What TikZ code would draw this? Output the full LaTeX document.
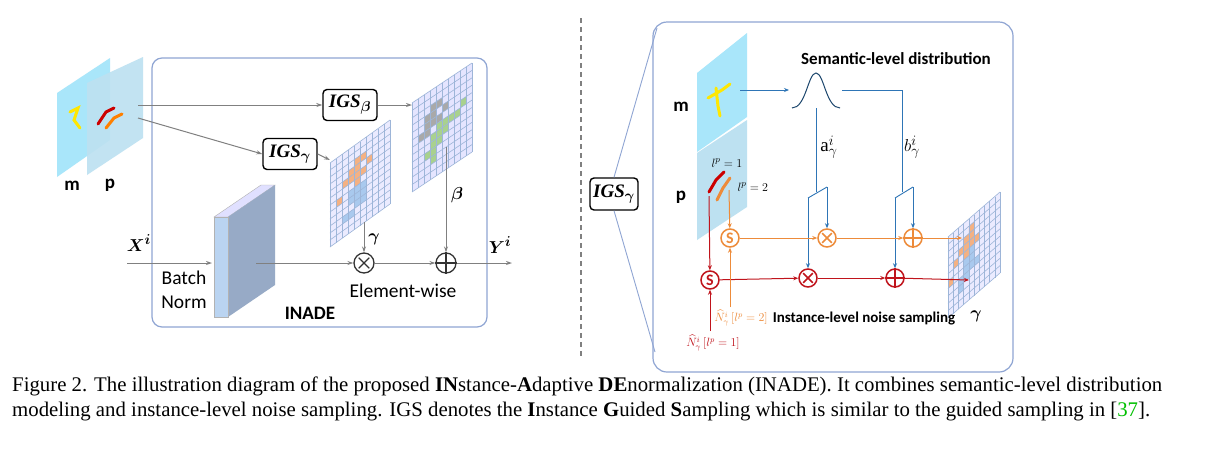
\documentclass[tikz,border=0pt]{standalone}
\usepackage{amsmath,bm}
\usepackage{fontspec}
\setmainfont{Liberation Serif}
\newfontfamily\calf{Carlito}
\usetikzlibrary{arrows.meta,calc}
\definecolor{boxc}{HTML}{8FA5D3}
\definecolor{arr}{HTML}{808080}
\definecolor{sblue}{HTML}{2E75B6}
\definecolor{org}{HTML}{ED8B3A}
\definecolor{dred}{HTML}{C0141C}
\definecolor{gcol}{HTML}{9DB5D8}
\definecolor{gor}{HTML}{F4B183}
\definecolor{gbl}{HTML}{A9C9EE}
\definecolor{ggr}{HTML}{A9A9A9}
\definecolor{ggn}{HTML}{A9D18E}
\definecolor{capgreen}{HTML}{00C000}
\definecolor{mpl}{HTML}{A9E6FA}
\definecolor{ppl}{HTML}{BDE1F1}
\newcommand{\gridlines}[7]{%
 \foreach \i in {0,...,#6}{\draw[gcol,line width=0.6pt] ({#1+\i*#3/#6},{#2+\i*#4/#6}) -- ({#1+\i*#3/#6},{#2+\i*#4/#6+#5});}
 \foreach \j in {0,...,#7}{\draw[gcol,line width=0.6pt] (#1,{#2+\j*#5/#7}) -- ({#1+#3},{#2+#4+\j*#5/#7});}
}
\tikzset{
 igs/.style={draw=black,line width=1.4pt,rounded corners=4pt,minimum width=54pt,minimum height=31pt,inner sep=0pt,font=\fontsize{19}{19}\selectfont},
 ar/.style={arr,line width=1pt,-{Stealth[length=6pt,width=4pt]}},
 op/.style={circle,draw,line width=1.3pt,minimum size=20pt,inner sep=0pt},
 bl/.style={sblue,line width=0.9pt},
 lab/.style={font=\calf\bfseries\fontsize{19}{19}\selectfont},
}
\begin{document}
\begin{tikzpicture}[x=1pt,y=-1pt]
\useasboundingbox (0,0) rectangle (1229,448);
\fill[white] (0,0) rectangle (1229,448);
% ---------- LEFT ----------
\draw[boxc,line width=1.2pt,rounded corners=10pt] (152,58) rectangle (487,327);
\fill[mpl] (57,93) -- (110,58) -- (110,140) -- (57,177) -- cycle;
\fill[ppl,opacity=0.92] (87,83) -- (143,57) -- (143,138) -- (87,175) -- cycle;
\draw[yellow!90!orange,line width=3pt,line cap=round] (70,112) -- (78,108) -- (74,120) -- (80,128);
\draw[red!80!black,line width=3pt,line cap=round] (98,124) -- (106,112) -- (114,108);
\draw[orange,line width=3pt,line cap=round] (106,128) -- (114,118) -- (122,114);
\node[lab] (lm) at (72,186) {m};
\node[lab] (lp) at (110,185) {p};
\node[igs] (igb) at (350,105) {\textbf{\textit{IGS}}$_{\bm\beta}$};
\node[igs] (igg) at (290,154) {\textbf{\textit{IGS}}$_{\bm\gamma}$};
\coordinate (pa) at (138,105);
\coordinate (pb) at (138,118);
\draw[ar] (pa) -- (igb);
\draw[ar] (pb) -- (igg.west);
% gamma grid
\fill[blue!8!white] (330,163) -- (390,120) -- (390,204) -- (330,247) -- cycle;
\foreach \i/\j/\c in {3/3/gor,4/3/gor,4/2/gor,5/2/gor,3/4/gor,4/4/gor,5/4/gor,6/3/gor,2/4/gor,4/5/gor,1/6/gor,3/6/gbl,4/6/gbl,5/6/gbl,4/7/gbl,3/7/gbl,4/8/gbl,5/8/gbl,2/9/gbl,3/9/gbl,5/7/gbl}{
 \fill[\c] ({330+\i*6},{163+\i*-4.3+\j*7}) -- ({330+(\i+1)*6},{163+(\i+1)*-4.3+\j*7}) -- ({330+(\i+1)*6},{163+(\i+1)*-4.3+(\j+1)*7}) -- ({330+\i*6},{163+\i*-4.3+(\j+1)*7}) -- cycle;}
\gridlines{330}{163}{60}{-43}{84}{10}{12}
% beta grid
\fill[blue!10!white] (412,103) -- (472,63) -- (472,152) -- (412,192) -- cycle;
\foreach \i/\j/\c in {2/3/ggr,3/3/ggr,3/2/ggr,4/2/ggr,2/4/ggr,3/4/ggr,4/4/ggr,1/5/ggr,2/5/ggr,5/3/ggr,4/5/ggn,5/5/ggn,4/6/ggn,3/6/ggn,5/6/ggn,6/5/ggn,7/5/ggn,8/4/ggn,3/7/ggn,4/7/ggn,2/8/ggn,3/8/ggn,3/9/ggn}{
 \fill[\c] ({412+\i*6},{103+\i*-4+\j*7.4}) -- ({412+(\i+1)*6},{103+(\i+1)*-4+\j*7.4}) -- ({412+(\i+1)*6},{103+(\i+1)*-4+(\j+1)*7.4}) -- ({412+\i*6},{103+\i*-4+(\j+1)*7.4}) -- cycle;}
\gridlines{412}{103}{60}{-40}{89}{10}{12}
\coordinate (gin) at (330,160);
\coordinate (bin) at (412,105);
\draw[ar] (igb.east) -- (bin);
\draw[ar] (igg.east) -- (gin);
% batch norm
\fill[blue!12!white,draw=gray!60,line width=0.4pt] (214,217) -- (261,185) -- (275,185) -- (228,217) -- cycle;
\fill[gcol!80!gray] (228,217) -- (275,185) -- (275,285) -- (228,317) -- cycle;
\fill[gbl!80!white,draw=gray!60,line width=0.4pt] (214,217) rectangle (228,317);
\coordinate (xin) at (127,263);
\coordinate (bnin) at (212,263);
\coordinate (bnout) at (256,263);
\coordinate (yout) at (512,263);
\coordinate (gbot) at (364,222);
\coordinate (bbot) at (446,147);
\node[op,draw=black!80] (mul) at (364,263) {};
\draw[black!80,line width=1.3pt] ($(mul.north west)!0.15!(mul.south east)$) -- ($(mul.south east)!0.15!(mul.north west)$) ($(mul.north east)!0.15!(mul.south west)$) -- ($(mul.south west)!0.15!(mul.north east)$);
\node[op,draw=black!80] (add) at (446,263) {};
\draw[black!80,line width=1.3pt] (add.north) -- (add.south) (add.west) -- (add.east);
\draw[ar] (xin) -- (bnin);
\draw[ar] (bnout) -- (mul);
\draw[ar] (mul) -- (add);
\draw[ar] (add) -- (yout);
\draw[ar] (gbot) -- (mul);
\draw[ar] (bbot) -- (add);
\node (xl) at (139,243) {\fontsize{19}{19}\selectfont$\bm{X^i}$};
\node (yl) at (500,245) {\fontsize{19}{19}\selectfont$\bm{Y^i}$};
\node (gl) at (374,239) {\fontsize{19}{19}\selectfont$\bm\gamma$};
\node (bl) at (457,195) {\fontsize{19}{19}\selectfont$\bm\beta$};
\node[font=\calf\fontsize{19.5}{24}\selectfont,align=center] (bn) at (184,290) {Batch\\Norm};
\node[font=\calf\fontsize{19.5}{19.5}\selectfont] (ew) at (403,291) {Element-wise};
\node[lab] (inade) at (310,313) {INADE};
% separator
\draw[gray,line width=1.2pt,dash pattern=on 5pt off 4pt] (581,18) -- (581,358);
% ---------- RIGHT ----------
\node[igs,minimum width=48pt,minimum height=32pt] (ig2) at (614,194) {\textbf{\textit{IGS}}$_{\bm\gamma}$};
\draw[boxc,line width=1.2pt,rounded corners=14pt] (653,22) rectangle (1013,372);
\coordinate (z1) at (657,28);
\coordinate (z2) at (655,352);
\draw[boxc,line width=0.9pt] (ig2.north) -- (z1);
\draw[boxc,line width=0.9pt] (ig2.south) -- (z2);
\fill[mpl] (697,73) -- (747,33) -- (747,117) -- (697,152) -- cycle;
\fill[ppl] (697,153) -- (747,120) -- (747,207) -- (697,240) -- cycle;
\draw[yellow!90!orange,line width=3pt,line cap=round] (708,98) -- (722,90) -- (730,84) (716,88) -- (718,106) -- (720,116);
\draw[red!80!black,line width=3pt,line cap=round] (709,192) -- (716,180) -- (724,172);
\draw[org,line width=3pt,line cap=round] (717,200) -- (723,188) -- (730,178);
\node[lab] (rm) at (681,107) {m};
\node[lab] (rp) at (681,197) {p};
\node[font=\calf\bfseries\fontsize{17}{17}\selectfont] (sld) at (896,59) {Semantic-level distribution};
\draw[sblue!60!black,line width=1pt] (792,108) .. controls (806,108) and (808,73) .. (816,73) .. controls (824,73) and (826,108) .. (840,108);
\coordinate (mo) at (740,90);
\coordinate (gi) at (789,90);
\coordinate (go) at (842,90);
\draw[bl,-{Stealth[length=5pt,width=4pt]}] (mo) -- (gi);
% ops
\tikzset{rop/.style={op,minimum size=18pt,line width=1.5pt}}
\node[rop,draw=org] (om) at (827,238) {};
\draw[org,line width=1.5pt] ($(om.north west)!0.15!(om.south east)$) -- ($(om.south east)!0.15!(om.north west)$) ($(om.north east)!0.15!(om.south west)$) -- ($(om.south west)!0.15!(om.north east)$);
\node[rop,draw=org] (oa) at (913,238) {};
\draw[org,line width=1.5pt] (oa.north) -- (oa.south) (oa.west) -- (oa.east);
\node[rop,draw=dred] (rmu) at (808,278) {};
\draw[dred,line width=1.5pt] ($(rmu.north west)!0.15!(rmu.south east)$) -- ($(rmu.south east)!0.15!(rmu.north west)$) ($(rmu.north east)!0.15!(rmu.south west)$) -- ($(rmu.south west)!0.15!(rmu.north east)$);
\node[rop,draw=dred] (ra) at (895,278) {};
\draw[dred,line width=1.5pt] (ra.north) -- (ra.south) (ra.west) -- (ra.east);
\node[rop,draw=org,text=org,font=\calf\bfseries\fontsize{16}{16}\selectfont] (os) at (730,238) {S};
\node[rop,draw=dred,text=dred,font=\calf\bfseries\fontsize{16}{16}\selectfont] (rs) at (710,280) {S};
% blue a / b lines
\coordinate (a0) at (816,108); \coordinate (a1) at (816,192);
\coordinate (al) at (808,198); \coordinate (ar2) at (827,187);
\coordinate (b0) at (902,90); \coordinate (b1) at (902,192);
\coordinate (bl2) at (895,198); \coordinate (br) at (913,187);
\draw[bl] (a0) -- (a1);
\draw[bl] (al) -- (ar2);
\draw[bl] (go) -- (b0) -- (b1);
\draw[bl] (bl2) -- (br);
\tikzset{bar/.style={bl,-{Stealth[length=5pt,width=4pt]}}}
\draw[bar] (ar2) -- (om);
\draw[bar] (al) -- (rmu);
\draw[bar] (br) -- (oa);
\draw[bar] (bl2) -- (ra);
\node (al1) at (829,147) {\fontsize{19}{19}\selectfont$\mathrm{a}^i_\gamma$};
\node (bl1) at (912,147) {\fontsize{19}{19}\selectfont$b^i_\gamma$};
% right gamma grid
\fill[blue!8!white] (948,237) -- (1000,192) -- (1000,273) -- (948,318) -- cycle;
\foreach \i/\j/\c in {3/2/gor,4/2/gor,4/1/gor,3/3/gor,4/3/gor,5/3/gor,2/3/gor,1/4/gor,3/4/gor,0/6/gor,3/5/gbl,4/5/gbl,4/6/gbl,3/6/gbl,5/6/gbl,2/7/gbl,3/7/gbl,2/8/gbl,4/4/gbl}{
 \fill[\c] ({948+\i*5.2},{237+\i*-4.5+\j*7.4}) -- ({948+(\i+1)*5.2},{237+(\i+1)*-4.5+\j*7.4}) -- ({948+(\i+1)*5.2},{237+(\i+1)*-4.5+(\j+1)*7.4}) -- ({948+\i*5.2},{237+\i*-4.5+(\j+1)*7.4}) -- cycle;}
\gridlines{948}{237}{52}{-45}{81}{10}{11}
\coordinate (ogin) at (962,238);
\coordinate (rgin) at (969,280);
\tikzset{oar/.style={org,line width=1pt,-{Stealth[length=5pt,width=4pt]}},
 rar/.style={dred,line width=1pt,-{Stealth[length=5pt,width=4pt]}}}
\draw[oar] (os) -- (om);
\draw[oar] (om) -- (oa);
\draw[oar] (oa) -- (ogin);
\draw[rar] (rs) -- (rmu);
\draw[rar] (rmu) -- (ra);
\draw[rar] (ra) -- (rgin);
\coordinate (l2) at (729,190);
\coordinate (l1) at (709,196);
\coordinate (n2) at (730,307);
\coordinate (n1) at (710,331);
\draw[oar] (l2) -- (os);
\draw[rar] (l1) -- (rs);
\draw[oar] (n2) -- (os);
\draw[rar] (n1) -- (rs);
\node[font=\fontsize{13}{13}\selectfont] (lp1) at (727,163) {$l^p=1$};
\node[font=\fontsize{13}{13}\selectfont,anchor=west] (lp2) at (734,187) {$l^p=2$};
\node[text=org,font=\fontsize{12}{12}\selectfont,inner sep=1pt] (nn2) at (741,318) {$\widehat{N}^i_\gamma\,[l^p=2]$};
\node[text=dred,font=\fontsize{12}{12}\selectfont,inner sep=1pt] (nn1) at (713,343) {$\widehat{N}^i_\gamma\,[l^p=1]$};
\node[font=\calf\bfseries\fontsize{15}{15}\selectfont] (ins) at (864,319) {Instance-level noise sampling};
\node (rg) at (976,316) {\fontsize{19}{19}\selectfont$\bm\gamma$};
% caption
\node[anchor=north west,font=\fontsize{20.8}{25}\selectfont,align=left,inner sep=0pt] (cap) at (12,377) {Figure 2. The illustration diagram of the proposed \textbf{IN}stance-\textbf{A}daptive \textbf{DE}normalization (INADE). It combines semantic-level distribution\\modeling and instance-level noise sampling. IGS denotes the \textbf{I}nstance \textbf{G}uided \textbf{S}ampling which is similar to the guided sampling in [\textcolor{capgreen}{37}].};
\end{tikzpicture}
\end{document}
